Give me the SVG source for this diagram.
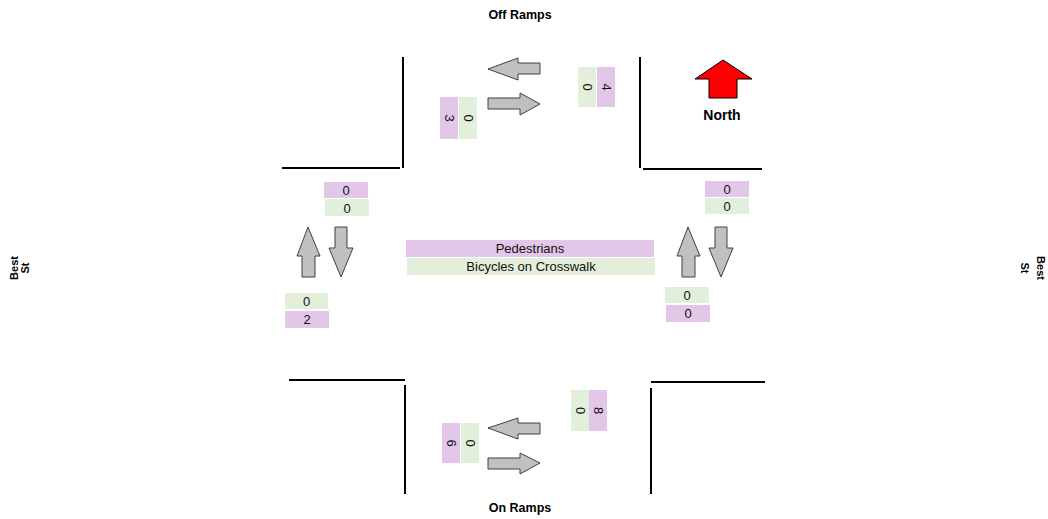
<svg xmlns="http://www.w3.org/2000/svg" width="1048" height="519" viewBox="0 0 1048 519">
<style>
.wall{stroke:#000;stroke-width:2;fill:none}
.arr{fill:#c0c0c0;stroke:#404040;stroke-width:1}
.pk{fill:#e2c7e8}
.gn{fill:#e2efda}
.n{font-family:"Liberation Sans",Arial,sans-serif;font-size:13px;fill:#111;text-anchor:middle}
.lb{font-family:"Liberation Sans",Arial,sans-serif;font-size:11px;font-weight:bold;fill:#000;text-anchor:middle}
.big{font-size:12.5px}
</style>
<rect width="1048" height="519" fill="#fff"/>
<g id="walls">
<path class="wall" d="M403,57V168M282,168H400"/>
<path class="wall" d="M640,57V168M643,169H762"/>
<path class="wall" d="M289,380H405M405,385V494"/>
<path class="wall" d="M651,382H765M651,388V494"/>
</g>
<g id="connectors">
<polygon class="arr" points="488,69 518,58 518,63 540,63 540,74 518,74 518,80"/>
<polygon class="arr" points="488,98 520,98 520,93 540,104 520,115 520,109 488,109"/>
<polygon class="arr" points="488,428 518,418 518,423 540,423 540,434 518,434 518,439"/>
<polygon class="arr" points="488,458 520,458 520,453 540,463 520,474 520,469 488,469"/>
<polygon class="arr" points="308,227 320,256 315,256 315,277 302,277 302,256 297,256"/>
<polygon class="arr" points="335,227 347,227 347,248 353,248 341,277 329,248 335,248"/>
<polygon class="arr" points="688,227 700,256 695,256 695,277 682,277 682,256 677,256"/>
<polygon class="arr" points="715,227 727,227 727,248 733,248 721,277 709,248 715,248"/>
</g>
<g id="north">
<polygon points="723,60 752,79 737,79 737,98 709,98 709,79 695,79" fill="#ff0000" stroke="#000" stroke-width="1"/>
<text class="lb" x="722" y="120" style="font-size:14px">North</text>
</g>
<g id="labels">
<text class="lb big" x="520" y="19">Off Ramps</text>
<text class="lb big" x="520" y="512">On Ramps</text>
<text class="lb" transform="translate(17.5,268) rotate(-90)" x="0" y="0">Best</text>
<text class="lb" transform="translate(29,268) rotate(-90)" x="0" y="0">St</text>
<text class="lb" transform="translate(1037,268) rotate(90)" x="0" y="0">Best</text>
<text class="lb" transform="translate(1021,268) rotate(90)" x="0" y="0">St</text>
</g>
<g id="count-top-left">
<rect class="pk" x="440" y="97" width="18" height="42"/>
<rect class="gn" x="459" y="97" width="18" height="42"/>
<text class="n" transform="translate(449,118) rotate(90)" y="4.5">3</text>
<text class="n" transform="translate(468,118) rotate(90)" y="4.5">0</text>
</g>
<g id="count-top-right">
<rect class="gn" x="578" y="67" width="18" height="40"/>
<rect class="pk" x="597" y="67" width="18" height="40"/>
<text class="n" transform="translate(587,87) rotate(90)" y="4.5">0</text>
<text class="n" transform="translate(606,87) rotate(90)" y="4.5">4</text>
</g>
<g id="count-bottom-left">
<rect class="pk" x="442" y="423" width="18" height="40"/>
<rect class="gn" x="461" y="423" width="18" height="40"/>
<text class="n" transform="translate(451,443) rotate(90)" y="4.5">6</text>
<text class="n" transform="translate(470,443) rotate(90)" y="4.5">0</text>
</g>
<g id="count-bottom-right">
<rect class="gn" x="571" y="390" width="18" height="41"/>
<rect class="pk" x="589" y="390" width="18" height="41"/>
<text class="n" transform="translate(580,410.5) rotate(90)" y="4.5">0</text>
<text class="n" transform="translate(598,410.5) rotate(90)" y="4.5">8</text>
</g>
<g id="count-left-top">
<rect class="pk" x="324" y="182" width="44" height="16"/>
<rect class="gn" x="325" y="199" width="44" height="17"/>
<text class="n" x="346" y="195">0</text>
<text class="n" x="347" y="212.5">0</text>
</g>
<g id="count-left-bottom">
<rect class="gn" x="285" y="293" width="43" height="16"/>
<rect class="pk" x="285" y="311" width="44" height="17"/>
<text class="n" x="306.5" y="306">0</text>
<text class="n" x="307" y="324">2</text>
</g>
<g id="count-right-top">
<rect class="pk" x="705" y="181" width="44" height="16"/>
<rect class="gn" x="705" y="198" width="44" height="16"/>
<text class="n" x="727" y="194">0</text>
<text class="n" x="727" y="211">0</text>
</g>
<g id="count-right-bottom">
<rect class="gn" x="665" y="287" width="44" height="16"/>
<rect class="pk" x="666" y="305" width="44" height="17"/>
<text class="n" x="687" y="300">0</text>
<text class="n" x="688" y="318">0</text>
</g>
<g id="legend">
<rect class="pk" x="406" y="240" width="248" height="17"/>
<rect class="gn" x="407" y="258" width="248" height="17"/>
<text class="n" x="530" y="253">Pedestrians</text>
<text class="n" x="531" y="271">Bicycles on Crosswalk</text>
</g>
</svg>
